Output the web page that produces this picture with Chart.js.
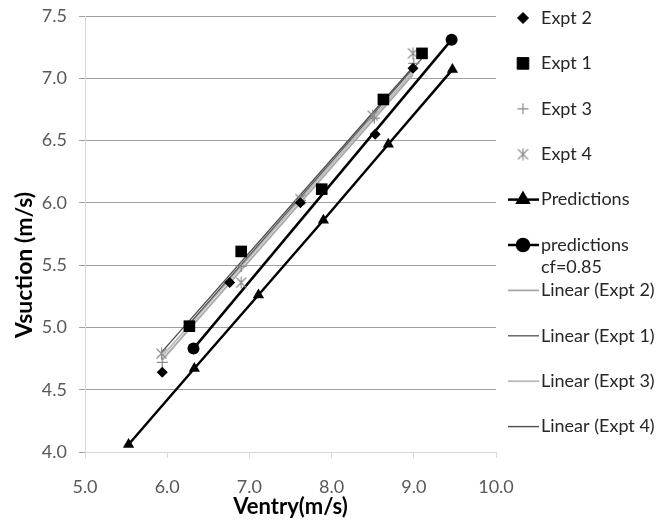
<!DOCTYPE html>
<html>
<head>
<meta charset="utf-8">
<script src="https://cdn.jsdelivr.net/npm/chart.js@4/dist/chart.umd.min.js"></script>
<style>
  html, body { margin: 0; padding: 0; background: #fff; }
  #wrap { width: 671px; height: 520px; }
</style>
</head>
<body>
<div id="wrap"><canvas id="c" width="671" height="520"></canvas></div>
<script>
// ---- data ----
const expt2X = [5.94, 6.76, 7.62, 8.53, 8.99];
const expt2Y = [4.64, 5.36, 6.00, 6.55, 7.08];
const expt1X = [6.27, 6.90, 7.88, 8.63, 9.10];
const expt1Y = [5.01, 5.61, 6.11, 6.83, 7.20];
const expt3X = [5.94, 6.90, 7.62, 8.52, 9.00];
const expt3Y = [4.72, 5.49, 6.02, 6.68, 7.12];
const expt4X = [5.93, 6.90, 7.62, 8.50, 8.99];
const expt4Y = [4.79, 5.36, 6.03, 6.70, 7.20];
const predX = [5.53, 6.33, 7.11, 7.90, 8.69, 9.47];
const predY = [4.06, 4.67, 5.26, 5.86, 6.47, 7.07];
const predCfX = [6.32, 9.46];
const predCfY = [4.83, 7.31];
// trendline end points
const trend2X = [5.94, 8.99];
const trend2Y = [4.74, 7.03];
const trend1X = [6.27, 9.10];
const trend1Y = [5.03, 7.16];
const trend3X = [5.94, 9.00];
const trend3Y = [4.77, 7.06];
const trend4X = [5.93, 8.99];
const trend4Y = [4.80, 7.09];

const xTicks = [5, 6, 7, 8, 9, 10];
const yTicks = [4.0, 4.5, 5.0, 5.5, 6.0, 6.5, 7.0, 7.5];
const xTitle = 'Ventry(m/s)';
const yTitle = 'Vsuction (m/s)';
const legendLabels = ['Expt 2', 'Expt 1', 'Expt 3', 'Expt 4', 'Predictions',
  ['predictions', 'cf=0.85'], 'Linear (Expt 2)', 'Linear (Expt 1)', 'Linear (Expt 3)', 'Linear (Expt 4)'];

const pts = (xs, ys) => xs.map((x, i) => ({ x: x, y: ys[i] }));

// asterisk marker (X + vertical bar)
function makeAsterisk(size, color) {
  const c = document.createElement('canvas');
  c.width = size; c.height = size;
  const g = c.getContext('2d');
  g.strokeStyle = color; g.lineWidth = 1.2;
  const m = size / 2, r = size / 2 - 1.5;
  g.beginPath();
  g.moveTo(m - r, m - r); g.lineTo(m + r, m + r);
  g.moveTo(m - r, m + r); g.lineTo(m + r, m - r);
  g.moveTo(m, 0.5); g.lineTo(m, size - 0.5);
  g.stroke();
  return c;
}
const asterisk = makeAsterisk(13, '#8c8c8c');

const FONT = 'Lato, "Noto Sans", sans-serif';

const trendColors = ['#a8a8a8', '#5c5c5c', '#bababa', '#4d4d4d'];

const datasets = [
  { label: 'Expt 2', data: pts(expt2X, expt2Y), showLine: false, pointStyle: 'rectRot', pointRadius: 5.5,
    backgroundColor: '#000', borderColor: '#000', borderWidth: 0 },
  { label: 'Expt 1', data: pts(expt1X, expt1Y), showLine: false, pointStyle: 'rect', pointRadius: 8.2,
    backgroundColor: '#000', borderColor: '#000', borderWidth: 0 },
  { label: 'Expt 3', data: pts(expt3X, expt3Y), showLine: false, pointStyle: 'cross', pointRadius: 5.5,
    backgroundColor: '#8c8c8c', borderColor: '#8c8c8c', borderWidth: 1.2 },
  { label: 'Expt 4', data: pts(expt4X, expt4Y), showLine: false, pointStyle: asterisk, pointRadius: 6,
    backgroundColor: '#8c8c8c', borderColor: '#8c8c8c', borderWidth: 1 },
  { label: 'Predictions', data: pts(predX, predY), showLine: true, pointStyle: 'triangle', pointRadius: 6.5,
    backgroundColor: '#000', borderColor: '#000', borderWidth: 2.5, pointBorderWidth: 0 },
  { label: 'predictions cf=0.85', data: pts(predCfX, predCfY), showLine: true, pointStyle: 'circle', pointRadius: 6,
    backgroundColor: '#000', borderColor: '#000', borderWidth: 2.5, pointBorderWidth: 0 },
  { label: 'Linear (Expt 2)', data: pts(trend2X, trend2Y), showLine: true, pointRadius: 0, borderColor: trendColors[0], borderWidth: 1.8 },
  { label: 'Linear (Expt 1)', data: pts(trend1X, trend1Y), showLine: true, pointRadius: 0, borderColor: trendColors[1], borderWidth: 1.4 },
  { label: 'Linear (Expt 3)', data: pts(trend3X, trend3Y), showLine: true, pointRadius: 0, borderColor: trendColors[2], borderWidth: 1.8 },
  { label: 'Linear (Expt 4)', data: pts(trend4X, trend4Y), showLine: true, pointRadius: 0, borderColor: trendColors[3], borderWidth: 1.4 }
];

// custom legend drawn on the right (Excel style) + y axis title placed as in the reference
const legendPlugin = {
  id: 'excelLegend',
  afterDraw(chart) {
    const ctx = chart.ctx;
    const mx = 523, tx = 541, y0 = 18, step = 45.4;
    ctx.save();
    ctx.font = '18px ' + FONT;
    ctx.textBaseline = 'middle';
    ctx.textAlign = 'left';
    legendLabels.forEach((lab, i) => {
      const y = y0 + i * step;
      const ds = chart.data.datasets[i];
      if (ds.showLine) {
        ctx.strokeStyle = ds.borderColor;
        ctx.lineWidth = ds.borderWidth;
        ctx.beginPath();
        ctx.moveTo(mx - 15, y); ctx.lineTo(mx + 16, y);
        ctx.stroke();
      }
      if (ds.pointRadius > 0) {
        ctx.fillStyle = ds.backgroundColor; ctx.strokeStyle = ds.borderColor;
        ctx.lineWidth = ds.pointBorderWidth !== undefined ? ds.pointBorderWidth : ds.borderWidth;
        Chart.helpers.drawPoint(ctx, {
          pointStyle: ds.pointStyle, radius: ds.pointRadius, rotation: 0,
          borderWidth: ctx.lineWidth
        }, mx, y);
      }
      ctx.fillStyle = '#262626';
      if (Array.isArray(lab)) {
        lab.forEach((l, j) => ctx.fillText(l, tx, y + j * 22));
      } else {
        ctx.fillText(lab, tx, y);
      }
    });
    ctx.restore();

    // y axis title (offset below the plot centre, as in the reference)
    ctx.save();
    ctx.translate(25, 265);
    ctx.rotate(-Math.PI / 2);
    ctx.font = 'bold 23px ' + FONT;
    ctx.fillStyle = '#000';
    ctx.textAlign = 'center';
    ctx.textBaseline = 'middle';
    ctx.fillText(yTitle, 0, 0);
    ctx.restore();
  }
};

const chart = new Chart(document.getElementById('c'), {
  type: 'scatter',
  data: { datasets: datasets },
  options: {
    responsive: false,
    animation: false,
    layout: { padding: { top: 16, right: 175, bottom: 0, left: 0 } },
    plugins: { legend: { display: false }, tooltip: { enabled: false } },
    scales: {
      x: {
        type: 'linear', min: 5, max: 10,
        afterBuildTicks: s => { s.ticks = xTicks.map(v => ({ value: v })); },
        ticks: { callback: v => Number(v).toFixed(1), font: { family: FONT, size: 18 }, color: '#595959', padding: 18, maxRotation: 0 },
        grid: { drawOnChartArea: false, drawTicks: true, tickLength: 6, tickColor: '#d9d9d9', color: '#d9d9d9' },
        border: { color: '#d9d9d9', width: 1 },
        title: { display: true, text: xTitle, font: { family: FONT, size: 22, weight: 'bold' }, color: '#000', padding: { top: 0, bottom: 0 } },
        afterFit: s => { s.height = 68; }
      },
      y: {
        type: 'linear', min: 4, max: 7.5,
        afterBuildTicks: s => { s.ticks = yTicks.map(v => ({ value: v })); },
        ticks: { callback: v => Number(v).toFixed(1), font: { family: FONT, size: 18 }, color: '#595959', padding: 12 },
        grid: {
          color: c => (c.tick && c.tick.value === 4) ? '#d9d9d9' : '#a0a0a0',
          tickColor: '#a0a0a0', tickLength: 6, lineWidth: 1
        },
        border: { color: '#d9d9d9', width: 1 },
        title: { display: false, text: yTitle },
        afterFit: s => { s.width = 85; s.paddingTop = 0; s.paddingBottom = 0; }
      }
    }
  },
  plugins: [legendPlugin]
});
</script>
</body>
</html>
